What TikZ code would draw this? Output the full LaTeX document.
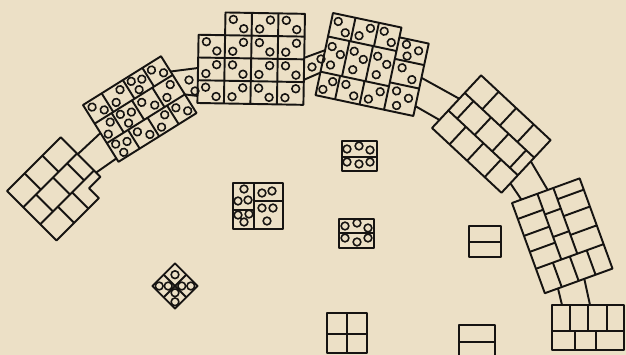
\documentclass[tikz,border=0pt]{standalone}
\usepackage{tikz}

\definecolor{paper}{RGB}{236,224,198}
\definecolor{ink}{RGB}{22,20,18}

% spores in one cell: x0, y0, x1, y1
\newcommand{\sporepair}[4]{%
  \draw[spore] ({#1+0.3*(#3-#1)},{#2+0.3*(#4-#2)}) circle[radius=2.2pt];
  \draw[spore] ({#1+0.7*(#3-#1)},{#2+0.7*(#4-#2)}) circle[radius=2.2pt];}
\newcommand{\sporepairb}[4]{%
  \draw[spore] ({#1+0.7*(#3-#1)},{#2+0.3*(#4-#2)}) circle[radius=2.2pt];
  \draw[spore] ({#1+0.3*(#3-#1)},{#2+0.7*(#4-#2)}) circle[radius=2.2pt];}
\newcommand{\sporetrio}[4]{%
  \draw[spore] ({#1+0.28*(#3-#1)},{#2+0.25*(#4-#2)}) circle[radius=2.2pt];
  \draw[spore] ({#1+0.72*(#3-#1)},{#2+0.42*(#4-#2)}) circle[radius=2.2pt];
  \draw[spore] ({#1+0.38*(#3-#1)},{#2+0.76*(#4-#2)}) circle[radius=2.2pt];}
\newcommand{\sporeone}[4]{%
  \draw[spore] ({0.5*(#1+#3)},{0.5*(#2+#4)}) circle[radius=2.2pt];}

\begin{document}
\begin{tikzpicture}[x=0.02cm, y=-0.02cm,
    wall/.style={draw=ink, line width=1.1pt, line join=round},
    spore/.style={draw=ink, line width=0.9pt},
    band/.style={draw=ink, line width=1.1pt}
]

% Paper
\useasboundingbox (0,0) rectangle (626,355);
\fill[paper] (0,0) rectangle (626,355);
\clip (0,0) rectangle (626,355);

% Block 1 (left, empty)
\begin{scope}[shift={(7,191)}, rotate=45]
  \draw[wall] (0,0) -- (76,0) -- (76,56) -- (60,56) -- (60,70) -- (0,70) -- cycle;
  \draw[wall] (0,23) -- (76,23) (0,47) -- (76,47);
  \draw[wall] (25,0) -- (25,23) (50,0) -- (50,23)
              (18,23) -- (18,47) (42,23) -- (42,47) (62,23) -- (62,47)
              (25,47) -- (25,70) (45,47) -- (45,70);
  \coordinate (b1top) at (76,24);
  \coordinate (b1bot) at (76,50);
\end{scope}

% Block 2
\begin{scope}[shift={(83,105)}, rotate=32]
  \draw[wall] (0,0) rectangle (92,67);
  \draw[wall] (0,22) -- (92,22) (0,45) -- (92,45);
  \draw[wall] (22,0) -- (22,22) (47,0) -- (47,22) (70,0) -- (70,22)
              (20,22) -- (20,45) (44,22) -- (44,45) (68,22) -- (68,45)
              (25,45) -- (25,67) (48,45) -- (48,67) (71,45) -- (71,67);
  \sporepair{0}{0}{22}{22} \sporepairb{22}{0}{47}{22}
  \sporetrio{47}{0}{70}{22} \sporepair{70}{0}{92}{22}
  \sporepairb{0}{22}{20}{45} \sporetrio{20}{22}{44}{45}
  \sporepair{44}{22}{68}{45} \sporepairb{68}{22}{92}{45}
  \sporetrio{0}{45}{25}{67} \sporepair{25}{45}{48}{67}
  \sporepairb{48}{45}{71}{67} \sporepair{71}{45}{92}{67}
  \coordinate (b2in1) at (0,33);
  \coordinate (b2in2) at (0,63);
  \coordinate (b2out1) at (92,18);
  \coordinate (b2out2) at (92,45);
\end{scope}

% Block 3 (top)
\begin{scope}[shift={(199,12)}, rotate=-1]
  \draw[wall] (0,22.75) -- (26.5,22.75) -- (26.5,0) -- (106,0) -- (106,91) -- (0,91) -- cycle;
  \draw[wall] (26.5,22.75) -- (106,22.75) (0,45.5) -- (106,45.5) (0,68.25) -- (106,68.25);
  \draw[wall] (26.5,22.75) -- (26.5,91) (53,0) -- (53,91) (79.5,0) -- (79.5,91);
  \foreach \i in {0,...,3}
    \foreach \j in {0,...,3} {
      \ifnum\numexpr\i+\j\relax=0 \else
        \ifodd\numexpr\i+\j\relax
          \sporepair{\i*26.5}{\j*22.75}{\i*26.5+26.5}{\j*22.75+22.75}
        \else
          \sporepairb{\i*26.5}{\j*22.75}{\i*26.5+26.5}{\j*22.75+22.75}
        \fi
      \fi
    }
  \coordinate (b3in1) at (0,56);
  \coordinate (b3in2) at (0,84);
  \coordinate (b3out1) at (106,44);
  \coordinate (b3out2) at (106,66);
\end{scope}

% Block 4
\begin{scope}[shift={(333,13)}, rotate=-12]
  \draw[wall] (0,0) -- (70,0) -- (70,10) -- (100,10) -- (100,84) -- (0,84) -- cycle;
  \draw[wall] (70,10) -- (70,84);
  \draw[wall] (0,24) -- (70,24) (0,60) -- (70,60) (70,32) -- (100,32) (70,56) -- (100,56);
  \draw[wall] (23,0) -- (23,24) (47,0) -- (47,24)
              (22,24) -- (22,60) (46,24) -- (46,60)
              (20,60) -- (20,84) (45,60) -- (45,84);
  \sporepair{0}{0}{23}{24} \sporepairb{23}{0}{47}{24} \sporepair{47}{0}{70}{24}
  \sporetrio{0}{24}{22}{60} \sporetrio{22}{24}{46}{60} \sporetrio{46}{24}{70}{60}
  \sporepairb{0}{60}{20}{84} \sporepair{20}{60}{45}{84} \sporepairb{45}{60}{70}{84}
  \sporetrio{70}{10}{100}{32} \sporepair{70}{32}{100}{56} \sporetrio{70}{56}{100}{84}
  \coordinate (b4in1) at (0,38);
  \coordinate (b4in2) at (0,61);
  \coordinate (b4out1) at (100,45);
  \coordinate (b4out2) at (100,74);
\end{scope}

% Block 5 (empty, bricks)
\begin{scope}[shift={(432,128)}, rotate=47]
  \draw[wall] (0,0) rectangle (72,95);
  \draw[wall] (24,0) -- (24,95) (48,0) -- (48,95);
  \draw[wall] (0,24) -- (24,24) (0,48) -- (24,48) (0,72) -- (24,72)
              (24,12) -- (48,12) (24,36) -- (48,36) (24,60) -- (48,60) (24,84) -- (48,84)
              (48,24) -- (72,24) (48,48) -- (72,48) (48,72) -- (72,72);
  \coordinate (b5in1) at (40,0);
  \coordinate (b5in2) at (11,0);
  \coordinate (b5out1) at (13,95);
  \coordinate (b5out2) at (43,95);
\end{scope}

% Block 6 (empty, bricks)
\begin{scope}[shift={(512,203)}, rotate=20]
  \draw[wall] (0,0) rectangle (72,96);
  \draw[wall] (0,70) -- (72,70);
  \draw[wall] (27,0) -- (27,70) (44,0) -- (44,70);
  \draw[wall] (0,17) -- (27,17) (0,35) -- (27,35) (0,52) -- (27,52)
              (27,22) -- (44,22) (27,46) -- (44,46)
              (44,12) -- (72,12) (44,30) -- (72,30) (44,50) -- (72,50)
              (18,70) -- (18,96) (36,70) -- (36,96) (54,70) -- (54,96);
  \coordinate (b6in1) at (10,0);
  \coordinate (b6in2) at (38,0);
  \coordinate (b6out1) at (14,96);
  \coordinate (b6out2) at (42,96);
\end{scope}

% Block 7 (bottom right)
\draw[wall] (552,305) rectangle (624,350);
\draw[wall] (552,331) -- (624,331);
\draw[wall] (570,305) -- (570,331) (588,305) -- (588,331) (607,305) -- (607,331)
            (575,331) -- (575,350) (596,331) -- (596,350);
\coordinate (b7in1) at (562,305);
\coordinate (b7in2) at (590,305);

% Bands between blocks
\draw[band] (b1top) -- (b2in1) (b1bot) -- (b2in2);
\draw[band] (b2out1) -- (b3in1) (b2out2) -- (b3in2);
\draw[band] (b3out1) -- (b4in1) (b3out2) -- (b4in2);
\draw[band] (b4out1) -- (b5in1) (b4out2) -- (b5in2);
\draw[band] (b5out1) -- (b6in1) (b5out2) -- (b6in2);
\draw[band] (b6out1) -- (b7in1) (b6out2) -- (b7in2);
\draw[spore] (189,80) circle[radius=2.2pt] (195,91) circle[radius=2.2pt];
\draw[spore] (312,67) circle[radius=2.2pt] (321,59) circle[radius=2.2pt];

% Loose groups
\draw[wall] (233,183) rectangle (283,229);
\draw[wall] (254,183) -- (254,229) (233,210) -- (254,210) (254,201) -- (283,201);
\draw[spore] (244,189) circle[radius=2.2pt] (238,201) circle[radius=2.2pt] (248,200) circle[radius=2.2pt]
             (238,215) circle[radius=2.2pt] (244,222) circle[radius=2.2pt] (249,214) circle[radius=2.2pt]
             (262,193) circle[radius=2.2pt] (272,191) circle[radius=2.2pt]
             (262,208) circle[radius=2.2pt] (273,208) circle[radius=2.2pt] (267,221) circle[radius=2.2pt];

\begin{scope}[shift={(175,286)}, rotate=45]
  \draw[wall] (-16,-16) rectangle (16,16);
  \draw[wall] (0,-16) -- (0,16) (-16,0) -- (16,0);
  \sporepair{-16}{-16}{0}{0} \sporeone{0}{-16}{16}{0}
  \sporepairb{-16}{0}{0}{16} \sporepair{0}{0}{16}{16}
\end{scope}

\draw[wall] (342,141) rectangle (377,171);
\draw[wall] (342,157) -- (377,157);
\draw[spore] (347,149) circle[radius=2.2pt] (359,146) circle[radius=2.2pt] (370,150) circle[radius=2.2pt]
             (347,162) circle[radius=2.2pt] (359,164) circle[radius=2.2pt] (370,162) circle[radius=2.2pt];

\draw[wall] (339,219) rectangle (374,248);
\draw[wall] (339,233) -- (374,233);
\draw[spore] (345,226) circle[radius=2.2pt] (357,223) circle[radius=2.2pt] (368,228) circle[radius=2.2pt]
             (345,238) circle[radius=2.2pt] (357,242) circle[radius=2.2pt] (368,238) circle[radius=2.2pt];

\draw[wall] (469,226) rectangle (501,257);
\draw[wall] (469,242) -- (501,242);

\draw[wall] (327,313) rectangle (367,353);
\draw[wall] (347,313) -- (347,353) (327,334) -- (367,334);

\draw[wall] (459,325) rectangle (495,362);
\draw[wall] (459,342) -- (495,342);

\end{tikzpicture}
\end{document}
